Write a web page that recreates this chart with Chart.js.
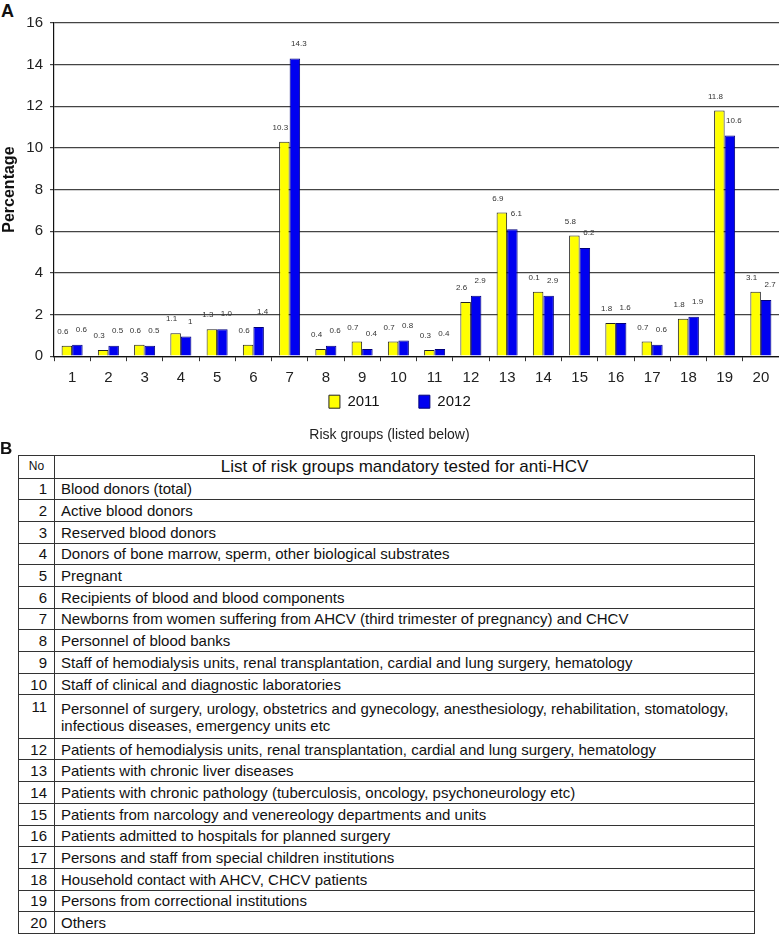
<!DOCTYPE html>
<html>
<head>
<meta charset="utf-8">
<script src="https://cdn.jsdelivr.net/npm/chart.js@4.4.1/dist/chart.umd.min.js"></script>
<style>
  body { margin: 0; background: #fff; font-family: "Liberation Sans", Arial, sans-serif; color: #111; }
  #page { position: relative; width: 779px; height: 935px; overflow: hidden; }
  #chartBox { position: absolute; left: 0; top: 0; width: 779px; height: 450px; }
  .panel { position: absolute; left: 1px; font-weight: bold; font-size: 18px; line-height: 1; }
  #riskTable { position: absolute; left: 18px; top: 455px; width: 737px; border-collapse: collapse; table-layout: fixed; }
  #riskTable td, #riskTable th { border: 1px solid #333; font-size: 15px; padding: 0; height: 21.7px; line-height: 17px; font-weight: normal; box-sizing: border-box; }
  #riskTable td.no { text-align: right; padding-right: 7px; }
  #riskTable td.txt { padding-left: 6px; }
  #riskTable th.no { font-size: 12px; text-align: center; height: 22.5px; }
  #riskTable th.txt { font-size: 17px; text-align: center; height: 22.5px; }
  #riskTable tr.tall td { height: 43.4px; }
  #riskTable tr.tall td.no { vertical-align: top; padding-top: 3px; }
</style>
</head>
<body>
<div id="page">
  <div class="panel" style="top:2px;">A</div>
  <div id="chartBox"><canvas id="chart" width="779" height="450"></canvas></div>
  <div class="panel" style="top:440px; font-size:17px; left:0;">B</div>
  <table id="riskTable">
    <colgroup><col style="width:36px"><col></colgroup>
    <thead><tr><th class="no">No</th><th class="txt">List of risk groups mandatory tested for anti-HCV</th></tr></thead>
    <tbody id="tableBody"></tbody>
  </table>
</div>
<script>
// risk group numbers on the x axis
const groups = ['1','2','3','4','5','6','7','8','9','10','11','12','13','14','15','16','17','18','19','20'];

// bar heights (%)
const values2011 = [0.5, 0.3, 0.55, 1.1, 1.3, 0.55, 10.3, 0.35, 0.7, 0.7, 0.3, 2.6, 6.9, 3.1, 5.8, 1.6, 0.7, 1.8, 11.8, 3.1];
const values2012 = [0.55, 0.5, 0.5, 0.95, 1.3, 1.4, 14.3, 0.5, 0.35, 0.75, 0.35, 2.9, 6.1, 2.9, 5.2, 1.6, 0.55, 1.9, 10.6, 2.7];

// the numbers printed above the bars, as they appear
const labels2011 = ['0.6','0.3','0.6','1.1','1.3','0.6','10.3','0.4','0.7','0.7','0.3','2.6','6.9','0.1','5.8','1.8','0.7','1.8','11.8','3.1'];
const labels2012 = ['0.6','0.5','0.5','1','1.0','1.4','14.3','0.6','0.4','0.8','0.4','2.9','6.1','2.9','6.2','1.6','0.6','1.9','10.6','2.7'];

const yTicks = [0, 2, 4, 6, 8, 10, 12, 14, 16];

// table B
const riskGroups = [
  'Blood donors (total)',
  'Active blood donors',
  'Reserved blood donors',
  'Donors of bone marrow, sperm, other biological substrates',
  'Pregnant',
  'Recipients of blood and blood components',
  'Newborns from women suffering from AHCV (third trimester of pregnancy) and CHCV',
  'Personnel of blood banks',
  'Staff of hemodialysis units, renal transplantation, cardial and lung surgery, hematology',
  'Staff of clinical and diagnostic laboratories',
  'Personnel of surgery, urology, obstetrics and gynecology, anesthesiology, rehabilitation, stomatology,\ninfectious diseases, emergency units etc',
  'Patients of hemodialysis units, renal transplantation, cardial and lung surgery, hematology',
  'Patients with chronic liver diseases',
  'Patients with chronic pathology (tuberculosis, oncology, psychoneurology etc)',
  'Patients from narcology and venereology departments and units',
  'Patients admitted to hospitals for planned surgery',
  'Persons and staff from special children institutions',
  'Household contact with AHCV, CHCV patients',
  'Persons from correctional institutions',
  'Others'
];

const FONT = '"Liberation Sans", Arial, sans-serif';

// fill the table
const body = document.getElementById('tableBody');
riskGroups.forEach((txt, i) => {
  const tr = document.createElement('tr');
  if (txt.indexOf('\n') >= 0) tr.className = 'tall';
  const no = document.createElement('td');
  no.className = 'no';
  no.textContent = i + 1;
  const td = document.createElement('td');
  td.className = 'txt';
  txt.split('\n').forEach((line, k) => {
    if (k > 0) td.appendChild(document.createElement('br'));
    td.appendChild(document.createTextNode(line));
  });
  tr.appendChild(no);
  tr.appendChild(td);
  body.appendChild(tr);
});

// small numbers above each bar
const barLabels = {
  id: 'barLabels',
  afterDatasetsDraw(chart) {
    const ctx = chart.ctx;
    ctx.save();
    ctx.font = '8px ' + FONT;
    ctx.fillStyle = '#333';
    ctx.textAlign = 'center';
    ctx.textBaseline = 'bottom';
    chart.data.datasets.forEach((ds, i) => {
      const meta = chart.getDatasetMeta(i);
      meta.data.forEach((bar, j) => {
        ctx.fillText(ds.valueLabels[j], bar.x + ds.labelDx, bar.y - ds.labelDy);
      });
    });
    ctx.restore();
  }
};

new Chart(document.getElementById('chart'), {
  type: 'bar',
  data: {
    labels: groups,
    datasets: [{
      label: '2011',
      data: values2011,
      valueLabels: labels2011,
      labelDx: -4,
      labelDy: 10,
      backgroundColor: '#ffff00',
      borderColor: '#222',
      borderWidth: 1,
      categoryPercentage: 0.58,
      barPercentage: 1
    }, {
      label: '2012',
      data: values2012,
      valueLabels: labels2012,
      labelDx: 4,
      labelDy: 11,
      backgroundColor: '#0000f0',
      borderColor: '#00007a',
      borderWidth: 1,
      categoryPercentage: 0.58,
      barPercentage: 1
    }]
  },
  options: {
    responsive: false,
    animation: false,
    layout: { padding: { top: 23, left: 0, right: 0, bottom: 0 } },
    scales: {
      x: {
        grid: { display: true, drawOnChartArea: false, drawTicks: true, tickLength: 5, color: '#333', offset: true },
        border: { display: true, color: '#111', width: 1.2 },
        ticks: { color: '#222', font: { family: FONT, size: 15 }, padding: 8, maxRotation: 0 },
        afterFit(scale) { scale.height = 28; }
      },
      y: {
        min: 0,
        max: 16,
        afterBuildTicks(scale) { scale.ticks = yTicks.map(v => ({ value: v })); },
        grid: { color: '#444', lineWidth: 1.2, tickLength: 4 },
        border: { display: true, color: '#111', width: 1.2 },
        ticks: { color: '#222', font: { family: FONT, size: 15 }, padding: 7 },
        title: { display: true, text: 'Percentage', color: '#111', font: { family: FONT, size: 16, weight: 'bold' }, padding: 0 },
        afterFit(scale) { scale.width = 54; }
      }
    },
    plugins: {
      legend: {
        position: 'bottom',
        fullSize: false,
        labels: {
          color: '#111',
          font: { family: FONT, size: 15 },
          boxWidth: 11,
          boxHeight: 13,
          padding: 10,
          generateLabels(chart) {
            const items = Chart.defaults.plugins.legend.labels.generateLabels(chart);
            items[0].text = items[0].text + '       ';
            items[1].text = items[1].text + '        ';
            return items;
          }
        }
      },
      title: {
        display: true,
        position: 'bottom',
        text: 'Risk groups (listed below)',
        color: '#222',
        font: { family: FONT, size: 14, weight: 'normal' },
        padding: { top: 8, bottom: 6 }
      },
      tooltip: { enabled: false }
    }
  },
  plugins: [barLabels]
});
</script>
</body>
</html>
